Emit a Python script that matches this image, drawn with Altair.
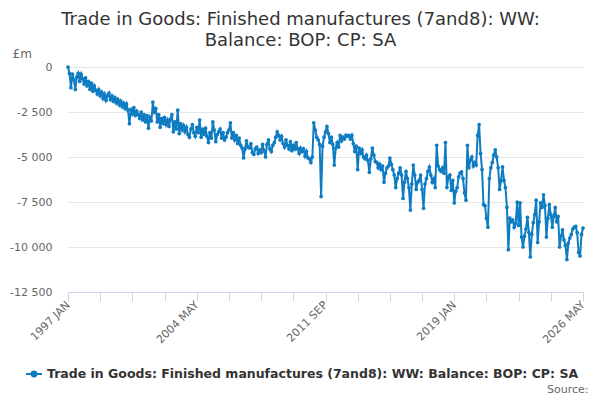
import altair as alt
import pandas as pd

series_name = "Trade in Goods: Finished manufactures (7and8): WW: Balance: BOP: CP: SA"
title_lines = ["Trade in Goods: Finished manufactures (7and8): WW:", "Balance: BOP: CP: SA"]
unit_label = "£m"
source_label = "Source:"
tick_labels = ["1997 JAN", "2004 MAY", "2011 SEP", "2019 JAN", "2026 MAY"]
start_year = 1997
month_names = ["JAN", "FEB", "MAR", "APR", "MAY", "JUN", "JUL", "AUG", "SEP", "OCT", "NOV", "DEC"]

# Monthly values (£m), one list per year
y1997 = [0, -350, -1150, -400, -700, -1250, -550, -350, -800, -400, -650, -950]
y1998 = [-600, -1050, -800, -1250, -900, -1350, -1050, -1300, -1500, -1250, -1600, -1400]
y1999 = [-1750, -1500, -1850, -1600, -1450, -1800, -1600, -1900, -1700, -2000, -1800, -2100]
y2000 = [-1900, -2200, -2000, -2300, -2050, -2400, -3150, -2350, -2600, -2250, -2700, -2450]
y2001 = [-2650, -2850, -2500, -2950, -2650, -3050, -2700, -3400, -2800, -3000, -1950, -2500]
y2002 = [-2300, -3050, -2650, -3350, -2850, -3150, -2800, -3200, -2950, -3300, -2900, -2650]
y2003 = [-3600, -3050, -3450, -2400, -3700, -3150, -3500, -3250, -3600, -3350, -3750, -3900]
y2004 = [-3450, -3200, -3650, -3850, -3350, -3650, -2950, -3900, -3450, -3750, -3400, -3850]
y2005 = [-4200, -3650, -3950, -3050, -3500, -4150, -3750, -3600, -3450, -3950, -3650, -4050]
y2006 = [-3900, -3650, -3500, -3100, -3950, -3650, -4050, -3800, -4250, -3950, -4350, -4500]
y2007 = [-5050, -4550, -4100, -4450, -4500, -4250, -4750, -4850, -4550, -4450, -4800, -4600]
y2008 = [-4750, -4300, -4650, -5000, -4300, -4050, -4550, -4700, -4350, -4200, -3900, -3600]
y2009 = [-3800, -4050, -3850, -4250, -4450, -4050, -4350, -4550, -4150, -4650, -4350, -4550]
y2010 = [-4200, -4550, -4800, -4500, -4700, -4550, -4950, -4700, -5050, -5100, -5300, -5000]
y2011 = [-3100, -3500, -3900, -4050, -4300, -7200, -4400, -3900, -3600, -3300, -3700, -4200]
y2012 = [-3900, -4300, -5450, -4500, -4200, -4450, -3800, -4100, -3900, -4000, -3780, -3850]
y2013 = [-3800, -4000, -3800, -4250, -4700, -4400, -5700, -4500, -4800, -4600, -5000, -5100]
y2014 = [-4900, -5200, -5850, -5100, -4500, -4900, -5250, -5300, -5600, -5400, -5700, -5500]
y2015 = [-6400, -5900, -5600, -5500, -5060, -5400, -5700, -6000, -6700, -6200, -5900, -5600]
y2016 = [-6000, -7300, -6400, -5800, -6200, -6700, -7950, -6500, -5450, -6000, -6800, -6400]
y2017 = [-6300, -6000, -6800, -7850, -6500, -6200, -5800, -5560, -6000, -6400, -6200, -6700]
y2018 = [-4350, -5500, -5700, -5800, -5600, -5900, -4200, -6700, -6100, -6000, -6850, -6300]
y2019 = [-7550, -6900, -6700, -6100, -5900, -5830, -6200, -7000, -7400, -4350, -5600, -5170]
y2020 = [-5000, -5500, -5300, -5440, -3800, -3200, -4800, -5700, -7650, -7700, -8400, -8900]
y2021 = [-6200, -5600, -5300, -4900, -4600, -5000, -5600, -6800, -6300, -5550, -6300, -6700]
y2022 = [-7800, -10150, -8400, -8600, -8500, -8900, -8700, -7500, -8800, -7550, -9450, -10000]
y2023 = [-9400, -9000, -8350, -9200, -10550, -9300, -8650, -8200, -7400, -9750, -8600, -7550]
y2024 = [-7800, -7100, -7700, -9450, -8400, -7650, -8200, -8900, -8300, -7800, -8600, -8300]
y2025 = [-10000, -9400, -9050, -9600, -9900, -10700, -9780, -9500, -9300, -9000, -8900, -8850]
y2026 = [-9200, -10300, -10500, -9300, -8950]

years = [y1997, y1998, y1999, y2000, y2001, y2002, y2003, y2004, y2005, y2006,
         y2007, y2008, y2009, y2010, y2011, y2012, y2013, y2014, y2015, y2016,
         y2017, y2018, y2019, y2020, y2021, y2022, y2023, y2024, y2025, y2026]

rows = []
idx = 0
for yi, vals in enumerate(years):
    for mi, v in enumerate(vals):
        rows.append({"idx": idx, "period": f"{start_year + yi} {month_names[mi]}",
                     "value": v, "series": series_name})
        idx += 1
df = pd.DataFrame(rows)
n_last = idx - 1

tick_step = 22
label_step = 88
tick_vals = list(range(0, n_last + 1, tick_step))
label_arr = "[" + ",".join(f"'{t}'" for t in tick_labels) + "]"
x_label_expr = f"datum.value % {label_step} == 0 ? {label_arr}[datum.value / {label_step}] : ''"

blue = "#0f7cc2"

chart = alt.Chart(df).mark_line(
    point=alt.OverlayMarkDef(size=14, filled=True, color=blue),
    strokeWidth=2, color=blue
).encode(
    x=alt.X("idx:Q", scale=alt.Scale(domain=[0, n_last], nice=False, zero=False),
            axis=alt.Axis(values=tick_vals, labelExpr=x_label_expr, labelAngle=-45,
                          labelAlign="right", labelBaseline="middle", labelFontSize=11,
                          labelColor="#666666", labelPadding=2, grid=False,
                          domainColor="#ccd6eb", tickColor="#ccd6eb", tickSize=9,
                          labelOverlap=False, labelFlush=False,
                          title=source_label, titleX=520, titleY=97, titleAlign="right",
                          titleBaseline="middle", titleFontSize=11, titleFontWeight="normal",
                          titleColor="#666666")),
    y=alt.Y("value:Q", scale=alt.Scale(domain=[-12500, 0], nice=False),
            axis=alt.Axis(values=[0, -2500, -5000, -7500, -10000, -12500],
                          labelExpr="replace(replace(format(datum.value, ','), ',', ' '), '−', '-')",
                          domain=False, ticks=False, gridColor="#e6e6e6", labelFontSize=11,
                          labelColor="#666666", labelPadding=16,
                          title=unit_label, titleAngle=0, titleX=-56, titleY=-10,
                          titleAlign="left", titleBaseline="alphabetic", titleFontSize=12,
                          titleFontWeight="normal", titleColor="#666666")),
    color=alt.Color("series:N", scale=alt.Scale(range=[blue]),
                    legend=alt.Legend(orient="none", legendX=-43, legendY=298, title=None,
                                      direction="horizontal", padding=0,
                                      labelFontSize=12.5, labelFontWeight="bold",
                                      labelColor="#333333", labelLimit=600,
                                      symbolType="M-1,0H1M-0.3,0A0.3,0.3,0,1,1,0.3,0A0.3,0.3,0,1,1,-0.3,0Z",
                                      symbolSize=256, symbolStrokeWidth=2,
                                      symbolFillColor=blue, symbolStrokeColor=blue)),
    tooltip=["period:N", "value:Q"]
).properties(
    width=515, height=225,
    title=alt.TitleParams(text=title_lines, anchor="middle", dx=-25, dy=7, fontSize=18,
                          fontWeight="normal", color="#333333", lineHeight=21),
    autosize=alt.AutoSizeParams(type="none"),
    padding={"left": 60, "top": 59, "right": 9, "bottom": 108}
).configure(
    font="DejaVu Sans"
).configure_view(stroke=None)

chart.save("out.html", embed_options={"renderer": "svg", "actions": False})
